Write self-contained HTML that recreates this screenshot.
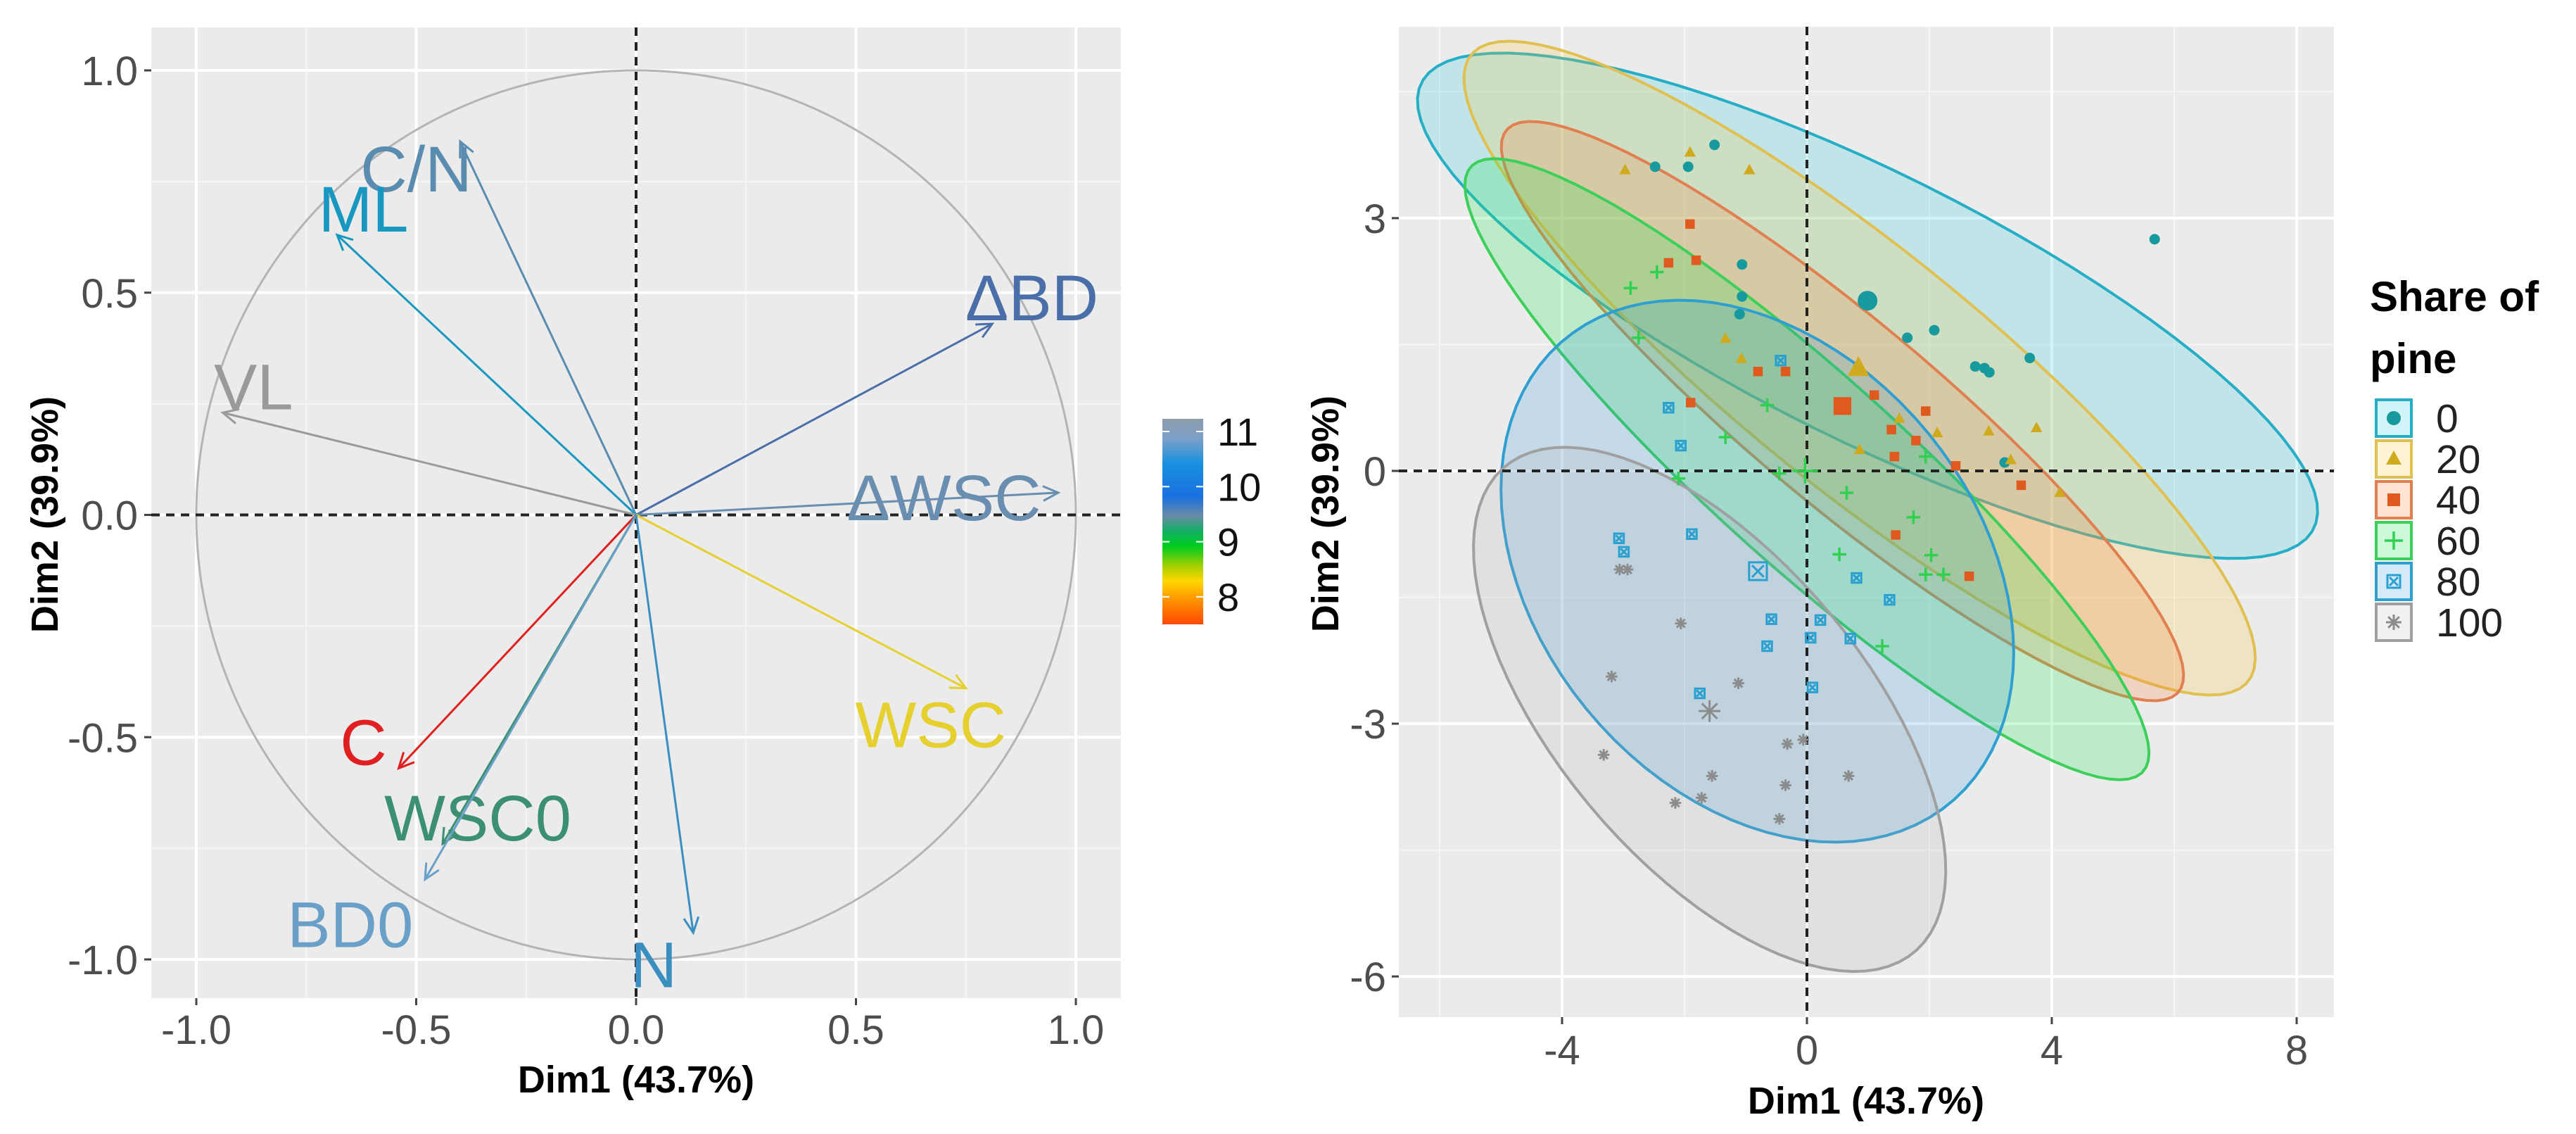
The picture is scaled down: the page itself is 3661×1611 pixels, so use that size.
<!DOCTYPE html>
<html><head><meta charset="utf-8"><style>
html,body{margin:0;padding:0;background:#fff;}
svg{display:block;font-family:"Liberation Sans",Arial,sans-serif;}
</style></head><body>
<svg id="fig" width="3661" height="1611" viewBox="0 0 3661 1611" xmlns="http://www.w3.org/2000/svg">
<defs>
<linearGradient id="cbar" x1="0" y1="0" x2="0" y2="1">
<stop offset="0" stop-color="#8c9bab"/><stop offset="0.1" stop-color="#7aa0c8"/>
<stop offset="0.22" stop-color="#1890e0"/><stop offset="0.38" stop-color="#1a70e0"/>
<stop offset="0.47" stop-color="#6a8aa8"/><stop offset="0.55" stop-color="#10b060"/>
<stop offset="0.62" stop-color="#00cc20"/><stop offset="0.72" stop-color="#a8d000"/>
<stop offset="0.79" stop-color="#ffd800"/><stop offset="0.87" stop-color="#ff9a00"/>
<stop offset="1" stop-color="#ff4a00"/>
</linearGradient>
<clipPath id="clipL"><rect x="215" y="39" width="1378" height="1379"/></clipPath>
<clipPath id="clipR"><rect x="1988" y="38" width="1329" height="1407"/></clipPath>
</defs>
<g id="left"></g>
<g id="right"></g>
</svg>
<script>
const NS="http://www.w3.org/2000/svg";
// ---------- Left chart data ----------
const varNames=["C/N","ML","VL","ΔBD","ΔWSC","WSC","C","WSC0","BD0","N"];
const varX=[-0.40,-0.68,-0.94,0.81,0.96,0.75,-0.54,-0.44,-0.48,0.13];
const varY=[0.84,0.63,0.23,0.43,0.05,-0.39,-0.57,-0.74,-0.82,-0.94];
const labelX=[-0.50,-0.62,-0.87,0.90,0.70,0.67,-0.62,-0.36,-0.65,0.04];
const labelY=[0.78,0.69,0.29,0.49,0.04,-0.47,-0.51,-0.68,-0.92,-1.01];
const varColors=["#5a8cb0","#1898c0","#9a9a9a","#4a6ea8","#6a8eb0","#e6d030","#e02020","#3a9070","#6aa0c8","#3a8fc0"];
const lTicks=[-1.0,-0.5,0.0,0.5,1.0];
const lTickLabels=["-1.0","-0.5","0.0","0.5","1.0"];
const cbarTicks=[11,10,9,8];
// ---------- Right chart data ----------
const groups=["0","20","40","60","80","100"];
const gStroke=["#25aec6","#e0c050","#e08050","#3ccf5a","#2f9ed0","#a0a0a0"];
const gFill=["rgba(20,200,220,0.2)","rgba(250,200,60,0.22)","rgba(255,120,40,0.2)","rgba(40,230,90,0.24)","rgba(40,150,220,0.2)","rgba(170,170,170,0.17)"];
const gMark=["#179a9e","#d0aa1e","#e05a20","#30d050","#2aa0d0","#8c8c8c"];
const ellCx=[0.99,0.86,0.58,0.0,-0.81,-1.59];
const ellCy=[1.96,1.22,0.71,0.02,-1.19,-2.83];
const ellAx=[6.81,5.96,5.16,5.16,2.65,3.06];
const ellAy=[-1.94,-3.53,-3.16,-3.40,-2.76,-2.77];
const ellBx=[-1.32,-1.29,-1.01,-1.08,-2.93,-1.97];
const ellBy=[2.06,-0.97,-0.73,-0.73,-1.26,-0.97];
const ptsX=[
[-1.51,-2.48,-1.94,-1.06,-1.06,-1.10,5.68,1.64,2.08,2.75,2.90,2.98,3.64,3.23],
[-2.97,-1.91,-0.94,-1.33,-1.07,1.51,2.13,0.86,2.97,3.75,4.13,3.33],
[-2.26,-1.81,-1.91,-0.80,-0.35,-1.90,1.10,1.38,1.78,1.94,1.43,2.43,3.50,1.45,2.65],
[-2.88,-2.45,-2.75,-1.33,-2.10,-0.65,-0.45,0.65,1.74,0.53,2.03,1.94,2.23,1.23,1.94],
[-2.26,-2.06,-1.88,-3.07,-2.99,-0.43,0.81,1.35,-0.58,0.22,-0.65,0.06,0.71,0.09,-1.75],
[-3.06,-2.93,-2.06,-3.19,-1.12,-3.32,-1.55,-0.32,-0.06,-0.35,-2.15,-1.72,-0.45,0.68]];
const ptsY=[
[3.87,3.61,3.61,2.45,2.07,1.86,2.75,1.58,1.67,1.24,1.22,1.17,1.34,0.10],
[3.57,3.78,3.57,1.57,1.33,0.62,0.45,0.25,0.47,0.51,-0.26,0.13],
[2.47,2.50,2.93,1.18,1.18,0.81,0.90,0.49,0.36,0.71,0.17,0.06,-0.17,-0.76,-1.25],
[2.17,2.36,1.58,0.40,-0.09,0.78,-0.03,-0.26,-0.55,-0.99,-1.00,-1.23,-1.23,-2.08,0.17],
[0.75,0.30,-0.75,-0.80,-0.96,1.31,-1.27,-1.53,-1.76,-1.77,-2.08,-1.98,-1.99,-2.57,-2.64],
[-1.17,-1.17,-1.81,-2.44,-2.52,-3.37,-3.62,-3.24,-3.19,-3.73,-3.94,-3.88,-4.13,-3.62]];
const centX=[0.99,0.84,0.58,-0.03,-0.80,-1.59];
const centY=[2.02,1.22,0.77,0.00,-1.19,-2.85];
const rXTicks=[-4,0,4,8];
const rXTickLabels=["-4","0","4","8"];
const rYTicks=[-6,-3,0,3];
const rYTickLabels=["-6","-3","0","3"];

function el(tag,attrs,parent){const e=document.createElementNS(NS,tag);for(const k in attrs)e.setAttribute(k,attrs[k]);parent.appendChild(e);return e;}

// ---------- Left chart ----------
const L=document.getElementById('left');
const lx=v=>904+625*v, ly=v=>731.5-631.5*v;
let bg=el('rect',{x:215,y:39,width:1378,height:1379,fill:'#ebebeb'},L);


[-0.75,-0.25,0.25,0.75].forEach(v=>{
 let g1=el('line',{x1:lx(v),x2:lx(v),y1:39,y2:1418,stroke:'#f5f5f5','stroke-width':2},L);
 
 
 let g2=el('line',{x1:215,x2:1593,y1:ly(v),y2:ly(v),stroke:'#f5f5f5','stroke-width':2},L);
 
 
});
lTicks.forEach((v,i)=>{
 let g1=el('line',{x1:lx(v),x2:lx(v),y1:39,y2:1418,stroke:'#fff','stroke-width':4},L);
 
 
 let g2=el('line',{x1:215,x2:1593,y1:ly(v),y2:ly(v),stroke:'#fff','stroke-width':4},L);
 
 
 let t1=el('line',{x1:lx(v),x2:lx(v),y1:1418,y2:1428,stroke:'#444','stroke-width':3},L);
 
 
 let t2=el('line',{x1:205,x2:215,y1:ly(v),y2:ly(v),stroke:'#444','stroke-width':3},L);
 
 
 let xl=el('text',{x:lx(v),y:1483,'text-anchor':'middle','font-size':58,fill:'#4d4d4d'},L);xl.textContent=lTickLabels[i];
 
 
 let yl=el('text',{x:196,y:ly(v)+21,'text-anchor':'end','font-size':58,fill:'#4d4d4d'},L);yl.textContent=lTickLabels[i];
 
 
});
const LP=el('g',{'clip-path':'url(#clipL)'},L);
let circ=el('ellipse',{cx:lx(0),cy:ly(0),rx:625,ry:631.5,fill:'none',stroke:'#b4b4b4','stroke-width':3},LP);


let hz=el('line',{x1:215,x2:1593,y1:ly(0),y2:ly(0),stroke:'#222','stroke-width':4,'stroke-dasharray':'12 9'},LP);


let vz=el('line',{x1:lx(0),x2:lx(0),y1:39,y2:1418,stroke:'#222','stroke-width':4,'stroke-dasharray':'12 9'},LP);


varNames.forEach((n,i)=>{
 const x1=lx(0),y1=ly(0),x2=lx(varX[i]),y2=ly(varY[i]);
 const a=Math.atan2(y2-y1,x2-x1),h=24,w=0.45;
 let g=el('g',{},LP);
 
 
 el('line',{x1,y1,x2,y2,stroke:varColors[i],'stroke-width':3},g);
 el('polyline',{points:`${x2-h*Math.cos(a-w)},${y2-h*Math.sin(a-w)} ${x2},${y2} ${x2-h*Math.cos(a+w)},${y2-h*Math.sin(a+w)}`,fill:'none',stroke:varColors[i],'stroke-width':3},g);
 let t=el('text',{x:lx(labelX[i]),y:ly(labelY[i])+33,'text-anchor':'middle','font-size':92,fill:varColors[i]},LP);
 t.textContent=n;
 
 
});
let xt=el('text',{x:904,y:1552,'text-anchor':'middle','font-size':54,'font-weight':'bold',fill:'#000'},L);xt.textContent='Dim1 (43.7%)';


let yt=el('text',{x:0,y:0,'text-anchor':'middle','font-size':54,'font-weight':'bold',fill:'#000',transform:'translate(82,731) rotate(-90)'},L);yt.textContent='Dim2 (39.9%)';


let cb=el('rect',{x:1652,y:595,width:58,height:292,fill:'url(#cbar)'},L);


const cy=v=>613+(11-v)*78.3;
cbarTicks.forEach(v=>{
 el('line',{x1:1652,x2:1662,y1:cy(v),y2:cy(v),stroke:'#fff','stroke-width':2},L);
 el('line',{x1:1700,x2:1710,y1:cy(v),y2:cy(v),stroke:'#fff','stroke-width':2},L);
 let t=el('text',{x:1730,y:cy(v)+20,'font-size':56,fill:'#111'},L);t.textContent=v;
 
 
});

// ---------- Right chart ----------
const R=document.getElementById('right');
const rx=v=>2568+87*v, ry=v=>669-119.7*v;
let bg2=el('rect',{x:1988,y:38,width:1329,height:1407,fill:'#ebebeb'},R);


[-6,-2,2,6].forEach(v=>{
 let g=el('line',{x1:rx(v),x2:rx(v),y1:38,y2:1445,stroke:'#f5f5f5','stroke-width':2},R);
 
 
});
[-4.5,-1.5,1.5,4.5].forEach(v=>{
 let g=el('line',{x1:1988,x2:3317,y1:ry(v),y2:ry(v),stroke:'#f5f5f5','stroke-width':2},R);
 
 
});
rXTicks.forEach((v,i)=>{
 let g=el('line',{x1:rx(v),x2:rx(v),y1:38,y2:1445,stroke:'#fff','stroke-width':4},R);
 
 
 el('line',{x1:rx(v),x2:rx(v),y1:1445,y2:1455,stroke:'#444','stroke-width':3},R);
 let t=el('text',{x:rx(v),y:1512,'text-anchor':'middle','font-size':58,fill:'#4d4d4d'},R);t.textContent=rXTickLabels[i];
 
 
});
rYTicks.forEach((v,i)=>{
 let g=el('line',{x1:1988,x2:3317,y1:ry(v),y2:ry(v),stroke:'#fff','stroke-width':4},R);
 
 
 el('line',{x1:1978,x2:1988,y1:ry(v),y2:ry(v),stroke:'#444','stroke-width':3},R);
 let t=el('text',{x:1970,y:ry(v)+21,'text-anchor':'end','font-size':58,fill:'#4d4d4d'},R);t.textContent=rYTickLabels[i];
 
 
});
const RP=el('g',{'clip-path':'url(#clipR)'},R);
const ellScale=1.06;
groups.forEach((g,i)=>{
 let pts=[];
 for(let k=0;k<90;k++){const t=k/90*2*Math.PI;
  const dx=ellCx[i]+ellScale*(ellAx[i]*Math.cos(t)+ellBx[i]*Math.sin(t));
  const dy=ellCy[i]+ellScale*(ellAy[i]*Math.cos(t)+ellBy[i]*Math.sin(t));
  pts.push(rx(dx).toFixed(1)+','+ry(dy).toFixed(1));}
 let p=el('polygon',{points:pts.join(' '),fill:gFill[i],stroke:gStroke[i],'stroke-width':4},RP);
 
 
});
let hz2=el('line',{x1:1988,x2:3317,y1:ry(0),y2:ry(0),stroke:'#222','stroke-width':4,'stroke-dasharray':'12 9'},RP);


let vz2=el('line',{x1:rx(0),x2:rx(0),y1:38,y2:1445,stroke:'#222','stroke-width':4,'stroke-dasharray':'12 9'},RP);


function marker(type,x,y,s,col,parent){
 const g=el('g',{},parent);
 if(type===0) el('circle',{cx:x,cy:y,r:s*0.5,fill:col},g);
 else if(type===1) el('polygon',{points:`${x},${y-s*0.6} ${x+s*0.55},${y+s*0.4} ${x-s*0.55},${y+s*0.4}`,fill:col},g);
 else if(type===2) el('rect',{x:x-s*0.45,y:y-s*0.45,width:s*0.9,height:s*0.9,fill:col},g);
 else if(type===3){el('line',{x1:x-s*0.65,x2:x+s*0.65,y1:y,y2:y,stroke:col,'stroke-width':3.5},g);el('line',{x1:x,x2:x,y1:y-s*0.65,y2:y+s*0.65,stroke:col,'stroke-width':3.5},g);}
 else if(type===4){el('rect',{x:x-s*0.45,y:y-s*0.45,width:s*0.9,height:s*0.9,fill:'none',stroke:col,'stroke-width':3},g);
  el('line',{x1:x-s*0.3,x2:x+s*0.3,y1:y-s*0.3,y2:y+s*0.3,stroke:col,'stroke-width':3},g);el('line',{x1:x-s*0.3,x2:x+s*0.3,y1:y+s*0.3,y2:y-s*0.3,stroke:col,'stroke-width':3},g);}
 else {for(let k=0;k<4;k++){const a=k*Math.PI/4;el('line',{x1:x-s*0.55*Math.cos(a),x2:x+s*0.55*Math.cos(a),y1:y-s*0.55*Math.sin(a),y2:y+s*0.55*Math.sin(a),stroke:col,'stroke-width':3},g);}}
 return g;
}
groups.forEach((g,i)=>{
 ptsX[i].forEach((v,j)=>{
  const m=marker(i,rx(v),ry(ptsY[i][j]),15,gMark[i],RP);
  
  
 });
 const c=marker(i,rx(centX[i]),ry(centY[i]),28,gMark[i],RP);
 
 
});
let xt2=el('text',{x:2652,y:1582,'text-anchor':'middle','font-size':54,'font-weight':'bold',fill:'#000'},R);xt2.textContent='Dim1 (43.7%)';


let yt2=el('text',{x:0,y:0,'text-anchor':'middle','font-size':54,'font-weight':'bold',fill:'#000',transform:'translate(1902,730) rotate(-90)'},R);yt2.textContent='Dim2 (39.9%)';


const LG=el('g',{},R);


let lt1=el('text',{x:3368,y:442,'font-size':60,'font-weight':'bold',fill:'#000'},LG);lt1.textContent='Share of';


let lt2=el('text',{x:3368,y:530,'font-size':60,'font-weight':'bold',fill:'#000'},LG);lt2.textContent='pine';


groups.forEach((g,i)=>{
 const yc=594+i*58;
 const e=el('g',{},LG);
 
 
 el('rect',{x:3377,y:yc-26,width:50,height:52,fill:gFill[i],stroke:gStroke[i],'stroke-width':4},e);
 marker(i,3402,yc,20,gMark[i],e);
 const t=el('text',{x:3462,y:yc+20,'font-size':57,fill:'#222'},e);t.textContent=g;
});
</script>
</body></html>
